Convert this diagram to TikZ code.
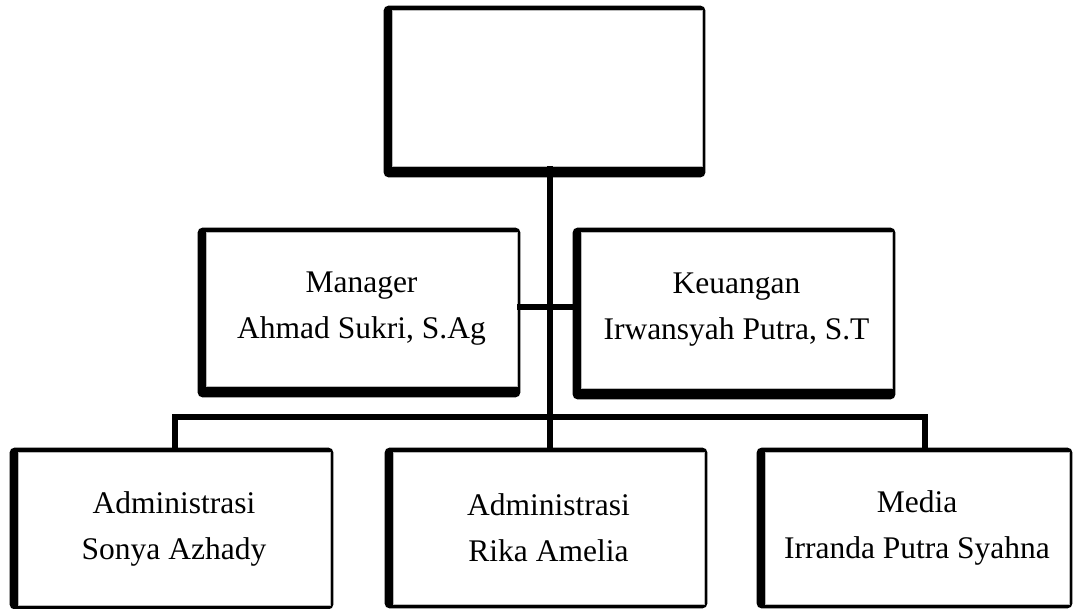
\documentclass[tikz,border=0pt]{standalone}
\usepackage{fontspec}
\setmainfont{Liberation Serif}
\usetikzlibrary{calc,backgrounds}
\tikzset{
  box/.style={draw=gray!55, line width=0.8pt, fill=white, inner sep=0pt, align=center,
    font=\fontsize{31.5}{46}\selectfont},
  conn/.style={line width=6pt, black},
  shade/.style={fill=black, rounded corners=5pt}
}
\begin{document}
\begin{tikzpicture}[x=1pt,y=-1pt]
\useasboundingbox (0,0) rectangle (1078,609);
% boxes (inner white faces)
\node[box, minimum width=310pt, minimum height=156pt] (top) at (547,88) {};
\node[box, minimum width=311pt, minimum height=154pt] (m1) at (361.5,309) {Manager\\Ahmad Sukri, S.Ag};
\node[box, minimum width=311pt, minimum height=156pt] (m2) at (736.5,310) {Keuangan\\Irwansyah Putra, S.T};
\node[box, minimum width=312pt, minimum height=153pt] (b1) at (174,528.5) {Administrasi\\Sonya Azhady};
\node[box, minimum width=311pt, minimum height=152pt] (b2) at (548.5,528) {Administrasi\\Rika Amelia};
\node[box, minimum width=304pt, minimum height=152pt] (b3) at (917,528) {Media\\Irranda Putra Syahna};
% black frames behind
\begin{pgfonlayer}{background}
\foreach \n in {top,m1,m2}{
  \fill[shade] ($(\n.south west)+(-8,11)$) rectangle ($(\n.north east)+(3,-4)$);
}
\foreach \n in {b1,b2,b3}{
  \fill[shade] ($(\n.south west)+(-8,4)$) rectangle ($(\n.north east)+(3,-4)$);
}
\end{pgfonlayer}
% connectors
\coordinate (trunk) at (550,0);
\coordinate (hub) at (550,307);
\coordinate (bus) at (550,417);
\coordinate (dl) at (175,0);
\coordinate (dr) at (925,0);
\draw[conn] (top.south -| trunk) -- (b2.north -| trunk);
\draw[conn] (m1.east |- hub) -- (m2.west |- hub);
\draw[conn] (b1.north -| dl) -- (dl |- bus) -- (dr |- bus) -- (b3.north -| dr);
\end{tikzpicture}
\end{document}
